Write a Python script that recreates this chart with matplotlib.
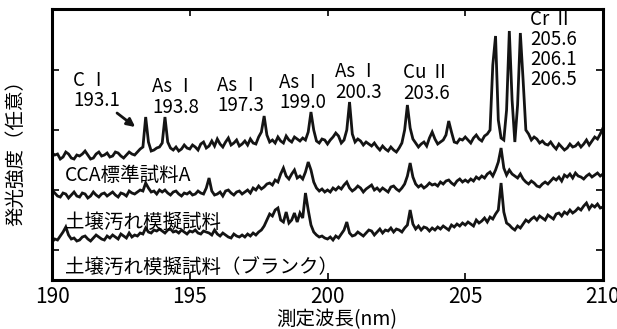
import matplotlib
matplotlib.use('Agg')
import matplotlib.pyplot as plt
import numpy as np

plt.rcParams['font.family'] = ['Noto Sans CJK JP', 'DejaVu Sans']

# wavelength axis (nm), 0.1 nm sampling
wl_start, wl_stop, wl_step = 190.0, 210.0, 0.1

# CCA標準試料A (top trace), intensity in arbitrary units, one row per nm
cca = [
    127, 125, 126, 121, 123, 128, 126, 122, 121, 125,
    124, 126, 129, 125, 121, 122, 126, 128, 124, 125,
    127, 123, 124, 128, 127, 124, 122, 125, 128, 126,
    125, 128, 131, 133, 163, 138, 129, 130, 132, 133,
    137, 163, 138, 132, 130, 133, 129, 131, 135, 132,
    131, 135, 133, 130, 136, 138, 132, 134, 139, 134,
    141, 136, 133, 138, 142, 135, 137, 140, 134, 136,
    139, 135, 141, 137, 136, 143, 148, 164, 145, 138,
    140, 137, 143, 139, 137, 144, 140, 138, 143, 141,
    139, 142, 140, 148, 168, 150, 139, 137, 141, 140,
    136, 140, 143, 147, 144, 137, 140, 150, 178, 146,
    138, 141, 139, 135, 138, 136, 134, 137, 133, 130,
    134, 131, 129, 133, 130, 128, 132, 137, 150, 175,
    152, 141, 137, 133, 136, 138, 134, 142, 148, 141,
    136, 138, 140, 145, 159, 148, 138, 137, 141, 140,
    143, 140, 137, 142, 145, 141, 139, 144, 146, 150,
    215, 244, 160, 142, 140, 170, 249, 180, 138, 175,
    247, 200, 150, 146, 140, 143, 141, 137, 139, 136,
    135, 138, 134, 131, 136, 133, 130, 132, 136, 133,
    134, 137, 133, 136, 140, 135, 139, 143, 141, 146,
    152,
]

# 土壌汚れ模擬試料 (middle trace)
soil = [
    90, 87, 84, 83, 87, 86, 82, 85, 88, 84,
    83, 87, 86, 82, 84, 88, 85, 83, 86, 87,
    84, 86, 88, 85, 83, 87, 86, 84, 89, 87,
    86, 88, 90, 89, 97, 92, 88, 89, 86, 90,
    88, 90, 87, 85, 88, 89, 86, 84, 87, 86,
    88, 85, 86, 89, 87, 86, 92, 102, 89, 85,
    86, 88, 84, 89, 90, 87, 85, 88, 89, 86,
    88, 90, 87, 92, 90, 94, 91, 93, 96, 97,
    95, 100, 98, 106, 112, 104, 101, 106, 110, 102,
    104, 101, 108, 118, 110, 98, 92, 89, 91, 88,
    90, 88, 92, 90, 93, 91, 95, 98, 92, 89,
    91, 94, 92, 88, 91, 93, 95, 90, 92, 89,
    92, 90, 88, 93, 94, 91, 89, 92, 96, 104,
    117, 103, 96, 93, 95, 92, 94, 97, 95, 96,
    94, 98, 96, 99, 100, 97, 95, 99, 101, 98,
    100, 98, 101, 99, 103, 101, 104, 102, 106, 108,
    104, 110, 118, 132, 112, 105, 110, 106, 104, 102,
    106, 101, 98, 96, 99, 97, 94, 93, 96, 98,
    96, 99, 102, 100, 103, 99, 105, 103, 106, 102,
    107, 104, 103, 101, 104, 106, 103, 105, 107, 104,
    106,
]

# 土壌汚れ模擬試料（ブランク） (bottom trace)
blank = [
    38, 41, 40, 44, 48, 53, 45, 41, 42, 39,
    40, 43, 44, 41, 39, 42, 45, 43, 41, 40,
    44, 42, 45, 43, 41, 46, 44, 42, 47, 43,
    45, 44, 47, 46, 52, 48, 47, 50, 49, 51,
    49, 47, 50, 51, 48, 49, 47, 50, 48, 46,
    49, 48, 50, 47, 46, 49, 48, 47, 45, 50,
    46, 44, 47, 45, 43, 42, 46, 44, 43, 45,
    43, 46, 44, 47, 45, 48, 50, 54, 60, 66,
    64, 70, 72, 60, 58, 68, 57, 60, 67, 58,
    67, 62, 87, 70, 55, 48, 45, 43, 44, 42,
    41, 43, 40, 44, 42, 46, 50, 58, 47, 44,
    45, 48, 46, 44, 47, 50, 49, 45, 48, 51,
    47, 50, 49, 52, 48, 51, 50, 48, 52, 55,
    70, 56, 51, 54, 50, 53, 52, 49, 52, 50,
    53, 51, 54, 52, 50, 55, 53, 56, 54, 57,
    55, 58, 56, 54, 60, 57, 59, 62, 58, 63,
    61, 66, 70, 97, 68, 57, 55, 52, 50, 54,
    52, 56, 60, 58, 61, 63, 60, 64, 62, 60,
    65, 63, 61, 66, 67, 64, 68, 66, 70, 67,
    69, 72, 70, 74, 77, 71, 75, 73, 76, 72,
    73,
]

sample_labels = ['CCA標準試料A', '土壌汚れ模擬試料', '土壌汚れ模擬試料（ブランク）']
xticks = [190, 195, 200, 205, 210]
yticks = [30, 90, 150, 210]

# peak annotations: (element, wavelengths)
peak_labels = [
    ('C Ⅰ', ['193.1']),
    ('As Ⅰ', ['193.8']),
    ('As Ⅰ', ['197.3']),
    ('As Ⅰ', ['199.0']),
    ('As Ⅰ', ['200.3']),
    ('Cu Ⅱ', ['203.6']),
    ('Cr Ⅱ', ['205.6', '206.1', '206.5']),
]
# centre of each annotation block (nm, height)
peak_label_pos = [(190.76, 189.5), (193.63, 183), (195.99, 184.5), (198.24, 187.5),
                  (200.27, 198), (202.74, 197), (207.35, 230.5)]

wl = np.arange(len(cca)) * wl_step + wl_start

fig = plt.figure(figsize=(6.17, 3.29), dpi=100)
ax = fig.add_axes([0.0843, 0.1489, 0.893, 0.8237])

for y in (cca, soil, blank):
    ax.plot(wl, y, color='#141414', lw=2.0, solid_joinstyle='miter')

ax.set_xlim(wl_start, wl_stop)
ax.set_ylim(0, 271)
ax.set_xticks(xticks)
ax.set_yticks(yticks)
ax.set_yticklabels([])
ax.tick_params(direction='in', top=True, right=True, length=5, width=1.2,
               labelsize=15, pad=4)
for sp in ax.spines.values():
    sp.set_linewidth(2.2)

# sample names under each trace
for lab, (x, y) in zip(sample_labels, [(190.47, 105), (190.47, 58), (190.47, 13)]):
    ax.text(x, y, lab, fontsize=14, ha='left', va='center')

# peak labels
for (elem, vals), (x, y) in zip(peak_labels, peak_label_pos):
    ax.text(x, y, '\n'.join([elem] + vals), fontsize=13.5, ha='left',
            va='center', linespacing=0.95)

ax.annotate('', xy=(193.02, 153), xytext=(192.36, 167),
            arrowprops=dict(arrowstyle='-|>', color='#141414', lw=2,
                            mutation_scale=12, shrinkA=0, shrinkB=0))

fig.text(337 / 617, 1 - 320 / 329, '測定波長(nm)', fontsize=14, ha='center', va='center')
fig.text(16 / 617, 1 - 148 / 329, '発光強度（任意）', fontsize=14, ha='center',
         va='center', rotation=90)

fig.savefig('out.png', dpi=100)
